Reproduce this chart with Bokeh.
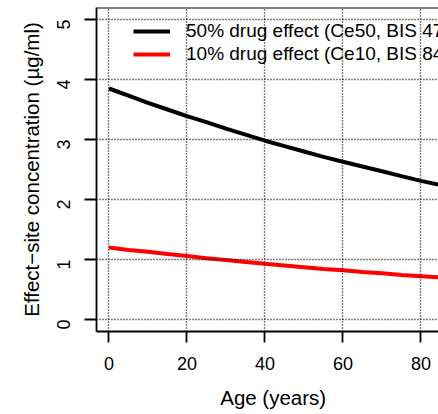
import math
from bokeh.plotting import figure
from bokeh.models import Legend, LegendItem, Span, Range1d, FixedTicker
from bokeh.embed import file_html
from bokeh.resources import INLINE

# Age in years and effect-site concentrations (µg/ml)
age = [0, 5, 10, 15, 20, 25, 30, 35, 40, 45, 50, 55, 60, 65, 70, 75, 80, 85]
ce50 = [3.85, 3.73, 3.61, 3.50, 3.39, 3.29, 3.18, 3.08, 2.98, 2.89,
        2.80, 2.71, 2.63, 2.55, 2.47, 2.39, 2.31, 2.24]
ce10 = [1.20, 1.16, 1.13, 1.09, 1.06, 1.02, 0.99, 0.96, 0.93, 0.90,
        0.87, 0.84, 0.82, 0.79, 0.77, 0.74, 0.72, 0.70]

x_ticks = [0, 20, 40, 60, 80]
y_ticks = [0, 1, 2, 3, 4, 5]
label_50 = "50% drug effect (Ce50, BIS 47)"
label_10 = "10% drug effect (Ce10, BIS 84)"

FONT = "Liberation Sans"

p = figure(width=438, height=414, output_backend="svg", toolbar_location=None,
           x_range=Range1d(-3.2, 84.5), y_range=Range1d(-0.2, 5.2),
           min_border_left=96, min_border_right=0, min_border_top=7,
           min_border_bottom=83)
p.outline_line_color = None
p.background_fill_color = "white"
p.border_fill_color = "white"

r50 = p.line(age, ce50, line_color="black", line_width=4)
r10 = p.line(age, ce10, line_color="#ff0000", line_width=4)

# axes
for ax in (p.xaxis[0], p.yaxis[0]):
    ax.axis_line_width = 1.8
    ax.major_tick_line_width = 1.8
    ax.major_tick_in = 0
    ax.minor_tick_out = 0
    ax.minor_tick_in = 0
    ax.major_label_text_font = FONT
    ax.major_label_text_font_size = "18px"
    ax.major_label_text_color = "black"
    ax.axis_label_text_font = FONT
    ax.axis_label_text_font_size = "20.5px"
    ax.axis_label_text_font_style = "normal"
    ax.axis_label_text_color = "black"

p.xaxis.ticker = FixedTicker(ticks=x_ticks)
p.yaxis.ticker = FixedTicker(ticks=y_ticks)
p.xaxis.major_tick_out = 11
p.yaxis.major_tick_out = 12
p.xaxis.major_label_standoff = 14
p.yaxis.major_label_standoff = 21
p.yaxis.major_label_orientation = math.pi / 2
# the box runs on past the right edge, so the title sits a little right of the visible middle
p.xaxis.axis_label = "\u00a0\u00a0Age (years)"
p.yaxis.axis_label = "Effect\u2212site concentration (\u00b5g/ml)"
p.xaxis.axis_label_standoff = 13
p.yaxis.axis_label_standoff = 5

# top edge of the box
p.add_layout(Span(location=5.2, dimension="width", line_color="black",
                  line_width=1.8))

# dotted grid drawn over everything
for g in (p.xgrid[0], p.ygrid[0]):
    g.grid_line_color = "black"
    g.grid_line_dash = "1 2"
    g.grid_line_width = 1.4
    g.level = "overlay"
p.xgrid.ticker = FixedTicker(ticks=x_ticks)
p.ygrid.ticker = FixedTicker(ticks=y_ticks)

legend = Legend(items=[LegendItem(label=label_50, renderers=[r50]),
                       LegendItem(label=label_10, renderers=[r10])],
                location=(37, 266), orientation="vertical",
                border_line_color=None, background_fill_alpha=0,
                padding=0, margin=0, spacing=1,
                glyph_width=37, glyph_height=20, label_height=20,
                label_standoff=16, label_text_font=FONT,
                label_text_font_size="19px", label_text_color="black")
p.add_layout(legend, "center")

open("out.html", "w").write(file_html(p, INLINE))
